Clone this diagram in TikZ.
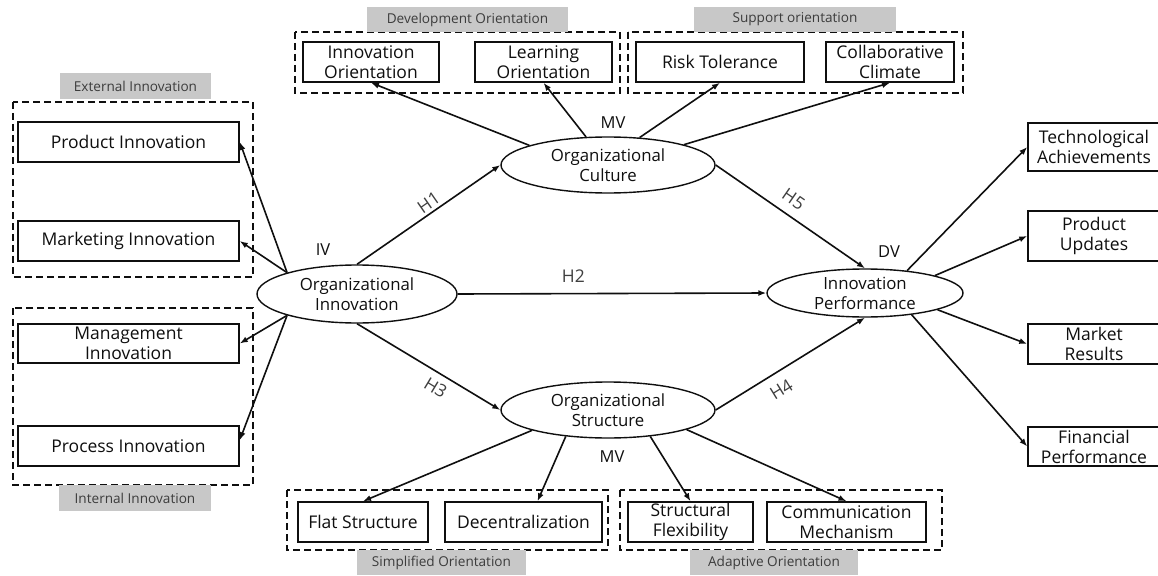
\documentclass[tikz,border=0pt]{standalone}
\usepackage{fontspec}
\setmainfont{Open Sans}
\usetikzlibrary{shapes.geometric,arrows.meta}
\definecolor{tagfill}{RGB}{200,200,200}
\definecolor{tagtext}{RGB}{60,60,60}
\definecolor{ink}{RGB}{15,15,15}
\begin{document}
\begin{tikzpicture}[x=1pt,y=-1pt,
 box/.style={draw=ink, line width=1.5pt, inner sep=0pt, align=center, text=ink, font=\fontsize{17.5}{20}\selectfont},
 ell/.style={ellipse, draw=ink, line width=1.4pt, inner sep=0pt, align=center, text=ink, font=\fontsize{16.8}{20}\selectfont},
 tag/.style={fill=tagfill, inner sep=0pt, text=tagtext, font=\fontsize{13.6}{15}\selectfont},
 frame/.style={draw=ink, line width=1.5pt, dash pattern=on 7pt off 4pt},
 conn/.style={draw=ink, line width=1.6pt, -{Latex[length=8pt,width=6pt]}},
 lab/.style={text=ink, font=\fontsize{16.5}{18}\selectfont},
 hyp/.style={text=ink!80, font=\fontsize{17.5}{19}\selectfont, sloped, inner sep=0pt}
]
\useasboundingbox[fill=white] (0,0) rectangle (1158,575);

% group frames
\draw[frame] (13,102) rectangle (253,277);
\draw[frame] (13,308) rectangle (253,485);
\draw[frame] (295,32) rectangle (620,93);
\draw[frame] (628,32) rectangle (963,93);
\draw[frame] (287,490) rectangle (608,550);
\draw[frame] (620,490) rectangle (942,550);

% group tags
\node[tag, minimum width=151pt, minimum height=26pt] (t1) at (135.5,86) {External Innovation};
\node[tag, minimum width=152pt, minimum height=26pt] (t2) at (135,498) {Internal Innovation};
\node[tag, minimum width=201pt, minimum height=25pt] (t3) at (467.5,19.5) {Development Orientation};
\node[tag, minimum width=202pt, minimum height=25pt] (t4) at (795,19.5) {Support orientation};
\node[tag, minimum width=169pt, minimum height=25pt] (t5) at (441.5,562.5) {Simplified Orientation};
\node[tag, minimum width=168pt, minimum height=25pt] (t6) at (774,562.5) {Adaptive Orientation};

% boxes
\node[box, minimum width=221pt, minimum height=40pt] (pi) at (128.5,142) {Product Innovation};
\node[box, minimum width=221pt, minimum height=40pt] (mi) at (128.5,241) {Marketing Innovation};
\node[box, minimum width=221pt, minimum height=39pt] (mg) at (128.5,343.5) {Management\\Innovation};
\node[box, minimum width=221pt, minimum height=40pt] (pr) at (128.5,446) {Process Innovation};
\node[box, minimum width=136pt, minimum height=40pt] (io) at (371,62) {Innovation\\Orientation};
\node[box, minimum width=137pt, minimum height=40pt] (lo) at (543.5,62) {Learning\\Orientation};
\node[box, minimum width=168pt, minimum height=40pt] (rt) at (720,62) {Risk Tolerance};
\node[box, minimum width=128pt, minimum height=40pt] (cc) at (890,62) {Collaborative\\Climate};
\node[box, minimum width=130pt, minimum height=40pt] (fs) at (363,522) {Flat Structure};
\node[box, minimum width=157pt, minimum height=40pt] (dc) at (523.5,522) {Decentralization};
\node[box, minimum width=125pt, minimum height=40pt] (sf) at (690.5,522) {Structural\\Flexibility};
\node[box, minimum width=159pt, minimum height=40pt] (cm) at (846.5,522) {Communication\\Mechanism};
\node[box, minimum width=132pt, minimum height=48pt] (ta) at (1094,147) {Technological\\Achievements};
\node[box, minimum width=132pt, minimum height=50pt] (pu) at (1094,236) {Product\\Updates};
\node[box, minimum width=132pt, minimum height=40pt] (mr) at (1094,344) {Market\\Results};
\node[box, minimum width=132pt, minimum height=39pt] (fp) at (1094,446.5) {Financial\\Performance};

% ellipses
\node[ell, minimum width=200pt, minimum height=58pt] (oi) at (357,294) {Organizational\\Innovation};
\node[ell, minimum width=214pt, minimum height=56pt] (oc) at (608,165) {Organizational\\Culture};
\node[ell, minimum width=214pt, minimum height=56pt] (os) at (608,410) {Organizational\\Structure};
\node[ell, minimum width=196pt, minimum height=48pt, inner ysep=-4pt] (ip) at (865,293) {Innovation\\Performance};

% variable labels
\node[lab] (iv) at (323,250) {IV};
\node[lab] (mv1) at (613,123) {MV};
\node[lab] (mv2) at (612,457) {MV};
\node[lab] (dv) at (889,252) {DV};

% connectors: independent variable
\draw[conn] (oi.163) -- (pi.east);
\draw[conn] (oi.163) -- (mi.east);
\draw[conn] (oi.197) -- (mg.east);
\draw[conn] (oi.197) -- (pr.3);

% hypotheses
\draw[conn] (oi.north) -- node[hyp, above=3pt, pos=0.54] (h1) {H1} (oc.west);
\draw[conn] (oi.east) -- node[hyp, above=10pt, pos=0.375] (h2) {H2} (ip.west);
\draw[conn] (oi.south) -- node[hyp, below=7pt, pos=0.6] (h3) {H3} (os.west);
\draw[conn] (oc.east) -- node[hyp, above=9pt, pos=0.46] (h5) {H5} (ip.north);
\draw[conn] (os.east) -- node[hyp, below=10pt, pos=0.38] (h4) {H4} (ip.south);

% culture
\draw[conn] (oc.166) -- (io.south);
\draw[conn] (oc.128) -- (lo.south);
\draw[conn] (oc.41) -- (rt.south);
\draw[conn] (oc.15) -- (cc.south);

% structure
\draw[conn] (os.195) -- (fs.north);
\draw[conn] (os.212) -- (dc.56);
\draw[conn] (os.-32) -- (sf.north);
\draw[conn] (os.-14) -- (cm.north);

% performance
\draw[conn] (ip.28) -- (ta.west);
\draw[conn] (ip.14) -- (pu.west);
\draw[conn] (ip.-13) -- (mr.west);
\draw[conn] (ip.-25) -- (fp.west);
\end{tikzpicture}
\end{document}
